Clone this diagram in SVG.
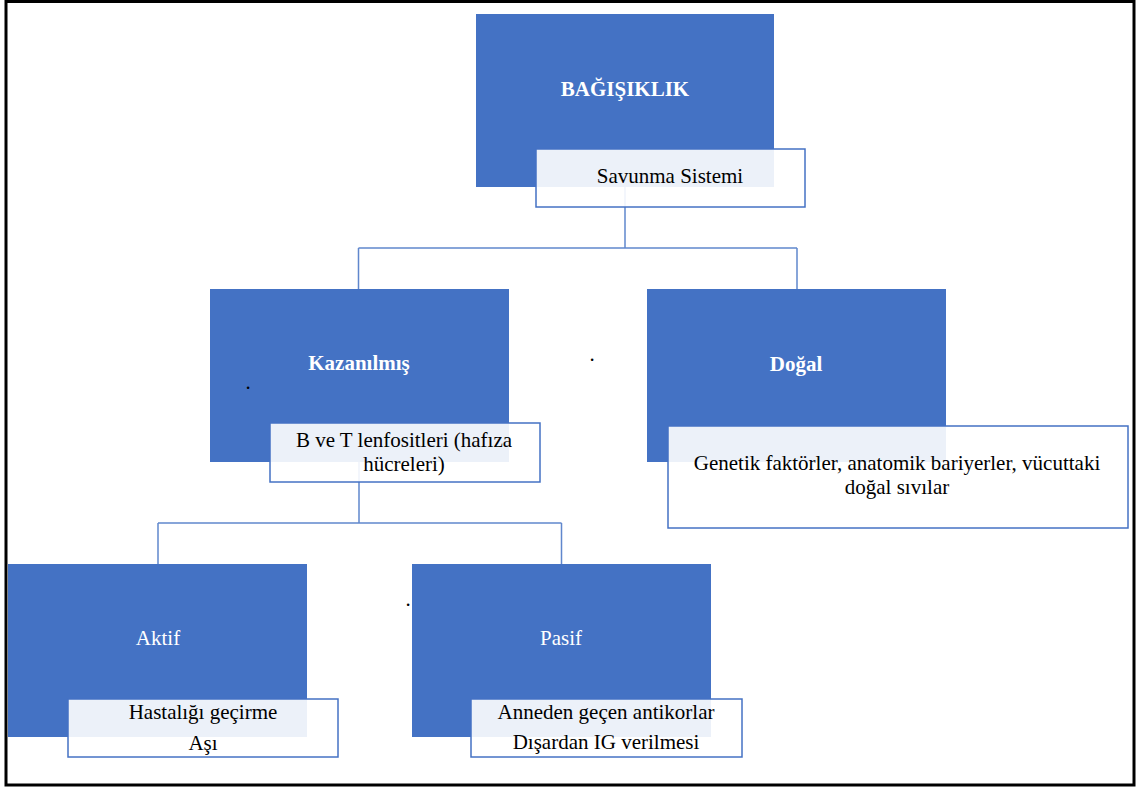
<svg xmlns="http://www.w3.org/2000/svg" width="1138" height="787" viewBox="0 0 1138 787">
<style>
.blue{fill:#4472C4;}
.sub{fill:#ffffff;fill-opacity:0.9;stroke:#4472C4;stroke-width:1.5;}
.conn{fill:none;stroke:#4472C4;stroke-width:1.5;stroke-opacity:0.85;}
.t{font-family:'Liberation Serif','Times New Roman',Tinos,'DejaVu Serif',serif;font-size:21px;text-anchor:middle;}
.w{fill:#ffffff;}
.wb{fill:#ffffff;font-weight:bold;}
.k{fill:#000000;}
</style>
<rect x="0" y="0" width="1138" height="787" fill="#ffffff"/>
<rect x="6" y="1.5" width="1128" height="783.5" fill="none" stroke="#000000" stroke-width="3"/>
<g id="connectors">
<path class="conn" d="M625,187 V248 M358.5,248 H797 M358.5,248 V289 M797,248 V289"/>
<path class="conn" d="M359,462 V523 M158,523 H561.5 M158,523 V564 M561.5,523 V564"/>
</g>
<g id="node-bagisiklik">
<rect class="blue" x="476" y="14" width="298" height="173"/>
<text class="t wb" x="625" y="96" font-family="Liberation Serif, serif">BAĞIŞIKLIK</text>
<rect class="sub" x="536" y="149" width="269" height="58"/>
<text class="t k" x="670" y="183" font-family="Liberation Serif, serif">Savunma Sistemi</text>
</g>
<g id="node-kazanilmis">
<rect class="blue" x="210" y="289" width="299" height="173"/>
<text class="t wb" x="359" y="370">Kazanılmış</text>
<text class="t k" x="248" y="389">.</text>
<rect class="sub" x="270" y="423" width="270" height="59"/>
<text class="t k" x="404" y="447">B ve T lenfositleri (hafıza</text>
<text class="t k" x="404" y="471">hücreleri)</text>
</g>
<g id="node-dogal">
<rect class="blue" x="647" y="289" width="299" height="173"/>
<text class="t wb" x="796" y="371">Doğal</text>
<rect class="sub" x="668" y="426" width="460" height="102"/>
<text class="t k" x="897" y="470">Genetik faktörler, anatomik bariyerler, vücuttaki</text>
<text class="t k" x="897" y="494">doğal sıvılar</text>
</g>
<text class="t k" x="592" y="361">.</text>
<g id="node-aktif">
<rect class="blue" x="8" y="564" width="299" height="173"/>
<text class="t w" x="158" y="645">Aktif</text>
<rect class="sub" x="68" y="699" width="270" height="58"/>
<text class="t k" x="203" y="719">Hastalığı geçirme</text>
<text class="t k" x="203" y="750">Aşı</text>
</g>
<g id="node-pasif">
<rect class="blue" x="412" y="564" width="299" height="173"/>
<text class="t w" x="561" y="645">Pasif</text>
<text class="t k" x="408" y="606">.</text>
<rect class="sub" x="471" y="699" width="271" height="58"/>
<text class="t k" x="606" y="719">Anneden geçen antikorlar</text>
<text class="t k" x="606" y="749">Dışardan IG verilmesi</text>
</g>
</svg>
